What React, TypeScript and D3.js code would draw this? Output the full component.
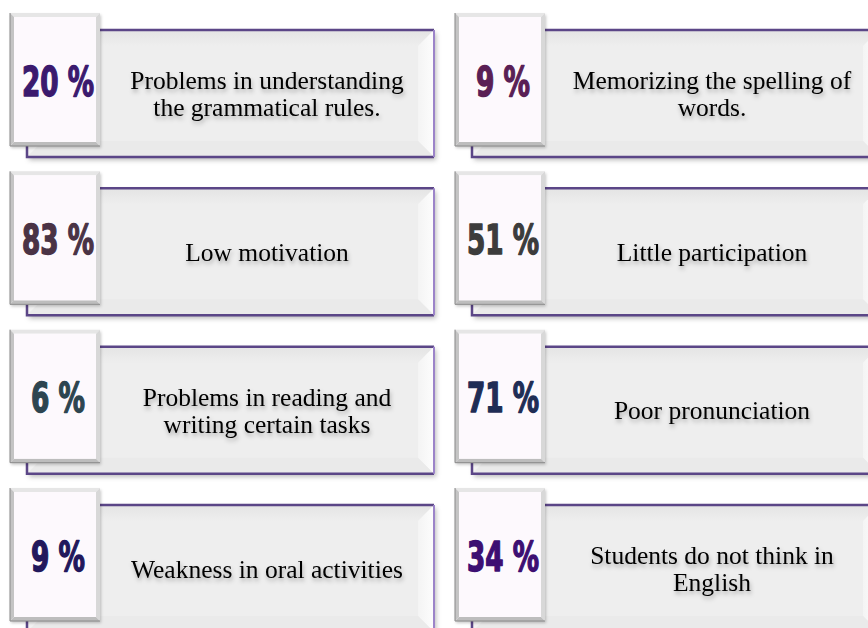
import React from "react";
import * as d3 from "d3";

const percents = [20, 9, 83, 51, 6, 71, 9, 34];
const labels: string[][] = [
  ["Problems in understanding", "the grammatical rules."],
  ["Memorizing the spelling of", "words."],
  ["Low motivation"],
  ["Little participation"],
  ["Problems in reading and", "writing certain tasks"],
  ["Poor pronunciation"],
  ["Weakness in oral activities"],
  ["Students do not think in", "English"],
];
const percentColors = ["#3b1a6e", "#5a1f55", "#4a3345", "#3c3c3c", "#2d4550", "#1f2d55", "#22185c", "#3d0f72"];

const W = 868;
const H = 628;

export default function App() {
  const col = d3.scaleOrdinal<number, number>().domain([0, 1]).range([0, 445]);
  const row = d3.scaleLinear().domain([0, 3]).range([30, 505]);
  const boxW = 407;
  const boxH = 127;
  const sqW = 90;
  const sqH = 133;
  const b = 16;
  const sb = 4;
  const lineH = 27;

  return (
    <svg
      width={W}
      height={H}
      style={{ position: "absolute", left: 0, top: 0, background: "#ffffff" }}
    >
      <defs>
        <filter id="boxShadow" x="-10%" y="-10%" width="130%" height="130%">
          <feDropShadow dx="2" dy="3" stdDeviation="2.5" floodColor="#000" floodOpacity="0.28" />
        </filter>
        <filter id="sqShadow" x="-20%" y="-10%" width="150%" height="130%">
          <feDropShadow dx="1" dy="2" stdDeviation="1.5" floodColor="#000" floodOpacity="0.22" />
        </filter>
        <filter id="textShadow" x="-10%" y="-30%" width="130%" height="180%">
          <feDropShadow dx="1" dy="3" stdDeviation="2" floodColor="#000" floodOpacity="0.3" />
        </filter>
        <linearGradient id="topBevel" x1="0" y1="0" x2="0" y2="1">
          <stop offset="0" stopColor="#e4e4e4" />
          <stop offset="1" stopColor="#eeeeee" />
        </linearGradient>
        <linearGradient id="rightBevel" x1="0" y1="0" x2="1" y2="0">
          <stop offset="0" stopColor="#f4f4f4" />
          <stop offset="1" stopColor="#fdfdfd" />
        </linearGradient>
      </defs>
      {percents.map((p, i) => {
        const c = i % 2;
        const r = Math.floor(i / 2);
        const x0 = col(c);
        const bx = x0 + 27;
        const by = row(r);
        const sx = x0 + 10;
        const sy = by - 17;
        const tcx = (sx + sqW + bx + boxW) / 2;
        const tcy = by + boxH / 2;
        const lines = labels[i];
        const label = `${p} %`;
        const digits = String(p).length;
        return (
          <g key={i}>
            {/* label box */}
            <rect x={bx} y={by} width={boxW} height={boxH} fill="#eeeeee" filter="url(#boxShadow)" />
            <polygon
              points={`${bx},${by} ${bx + boxW},${by} ${bx + boxW - b},${by + b} ${bx + b},${by + b}`}
              fill="url(#topBevel)"
            />
            <polygon
              points={`${bx},${by} ${bx + b},${by + b} ${bx + b},${by + boxH - b} ${bx},${by + boxH}`}
              fill="#f2f2f2"
            />
            <polygon
              points={`${bx + boxW},${by} ${bx + boxW},${by + boxH} ${bx + boxW - b},${by + boxH - b} ${bx + boxW - b},${by + b}`}
              fill="url(#rightBevel)"
            />
            <polygon
              points={`${bx},${by + boxH} ${bx + b},${by + boxH - b} ${bx + boxW - b},${by + boxH - b} ${bx + boxW},${by + boxH}`}
              fill="#eaeaea"
            />
            <rect x={bx + b} y={by + b} width={boxW - 2 * b} height={boxH - 2 * b} fill="#eeeeee" />
            <path
              d={`M${bx + boxW},${by} L${bx},${by} L${bx},${by + boxH} L${bx + boxW},${by + boxH}`}
              fill="none"
              stroke="#5b4687"
              strokeWidth={2.5}
            />
            <line x1={bx + boxW} y1={by} x2={bx + boxW} y2={by + boxH} stroke="#9c84c9" strokeWidth={2} />

            {/* percent square */}
            <rect x={sx} y={sy} width={sqW} height={sqH} fill="#fcf8fc" filter="url(#sqShadow)" />
            <polygon
              points={`${sx},${sy} ${sx + sqW},${sy} ${sx + sqW - sb},${sy + sb} ${sx + sb},${sy + sb}`}
              fill="#e6e6e6"
            />
            <polygon
              points={`${sx},${sy} ${sx + sb},${sy + sb} ${sx + sb},${sy + sqH - sb} ${sx},${sy + sqH}`}
              fill="#c4c4c4"
            />
            <polygon
              points={`${sx + sqW},${sy} ${sx + sqW},${sy + sqH} ${sx + sqW - sb},${sy + sqH - sb} ${sx + sqW - sb},${sy + sb}`}
              fill="#d8d8d8"
            />
            <polygon
              points={`${sx},${sy + sqH} ${sx + sb},${sy + sqH - sb} ${sx + sqW - sb},${sy + sqH - sb} ${sx + sqW},${sy + sqH}`}
              fill="#bdbdbd"
            />
            <rect x={sx + sb} y={sy + sb} width={sqW - 2 * sb} height={sqH - 2 * sb} fill="#fdf9fd" />
            <path
              d={`M${sx},${sy} L${sx},${sy + sqH} L${sx + sqW},${sy + sqH}`}
              fill="none"
              stroke="#8a8a8a"
              strokeWidth={1}
            />
            <text
              x={sx + sqW / 2 + 3}
              y={sy + sqH / 2 + 16}
              textAnchor="middle"
              fontFamily="'DejaVu Sans Condensed', 'DejaVu Sans', sans-serif"
              fontWeight="bold"
              fontSize={40}
              textLength={digits * 18 + 36}
              lengthAdjust="spacingAndGlyphs"
              fill={percentColors[i]}
              stroke={percentColors[i]}
              strokeWidth={1.4}
              strokeLinejoin="round"
            >
              {label}
            </text>

            {/* label text */}
            <g filter="url(#textShadow)">
              {lines.map((ln, k) => (
                <text
                  key={k}
                  x={tcx}
                  y={tcy - ((lines.length - 1) * lineH) / 2 + k * lineH + 9}
                  textAnchor="middle"
                  fontFamily="'Liberation Serif', 'Times New Roman', serif"
                  fontSize={25.5}
                  fill="#000"
                >
                  {ln}
                </text>
              ))}
            </g>
          </g>
        );
      })}
    </svg>
  );
}
